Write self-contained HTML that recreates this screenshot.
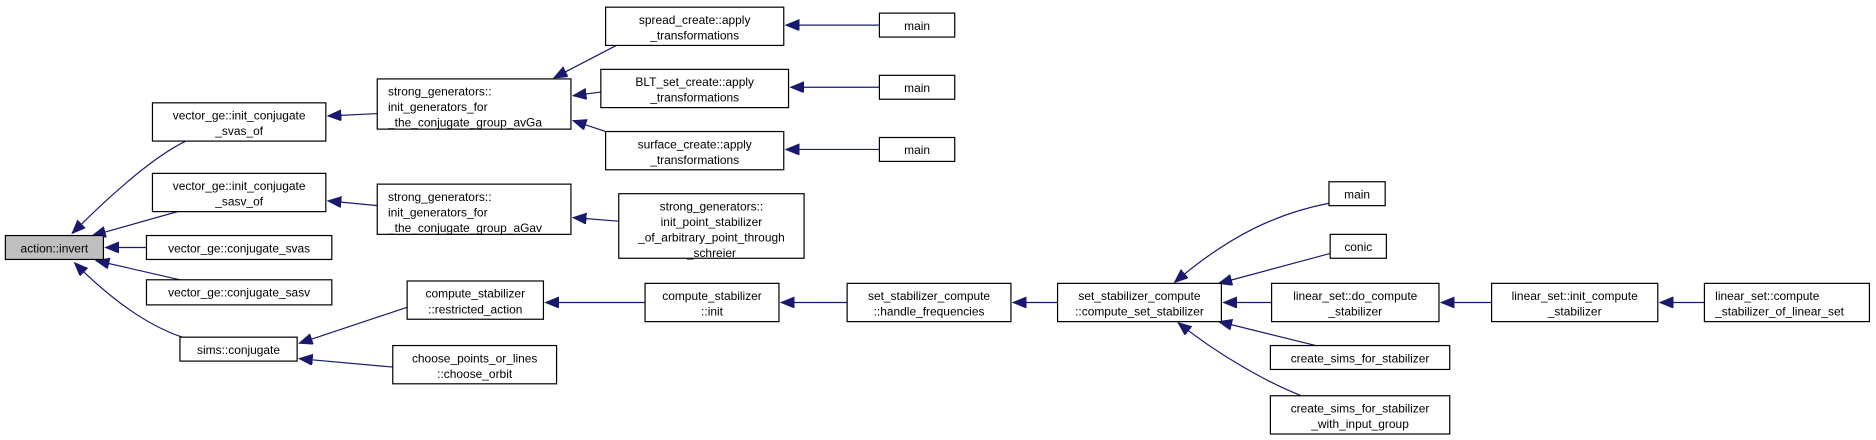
<!DOCTYPE html>
<html><head><meta charset="utf-8"><style>html,body{margin:0;padding:0;background:#fff;}svg{display:block}</style></head>
<body>
<svg width="1876" height="440" viewBox="0 0 1568 368" xmlns="http://www.w3.org/2000/svg" font-family="Liberation Sans, sans-serif" font-size="10">
<defs>
<marker id="a" markerUnits="userSpaceOnUse" markerWidth="13" markerHeight="10" refX="11" refY="4.5" orient="auto">
<path d="M0,0 L11,4.5 L0,9 Z" fill="#191970" stroke="#191970"/>
</marker>
</defs>
<g fill="none" stroke="#191970" stroke-width="1" marker-end="url(#a)">
<path d="M155,118 C130,130 95,160 60,195"/>
<path d="M148,177 L77,197"/>
<path d="M122,207 L88,207"/>
<path d="M150,234 L80,218"/>
<path d="M152,282 C125,273 95,253 62,220"/>
<path d="M315,95 L274,97"/>
<path d="M315,172 L274,168"/>
<path d="M340,257 L250,287"/>
<path d="M328,307 L250,300"/>
<path d="M515,38 L463,65"/>
<path d="M502,77 L479,80"/>
<path d="M515,113 L479,101"/>
<path d="M517,185 L479,182"/>
<path d="M735,21 L657,21"/>
<path d="M735,73 L661,73"/>
<path d="M735,125 L657,125"/>
<path d="M539,253 L456,253"/>
<path d="M708,253 L653,253"/>
<path d="M884,253 L847,253"/>
<path d="M1111,170 C1070,178 1030,195 982,236"/>
<path d="M1112,212 L1019,237"/>
<path d="M1063,253 L1023,253"/>
<path d="M1100,289 L1019,269"/>
<path d="M1088,331 C1060,320 1020,298 985,270"/>
<path d="M1247,253 L1205,253"/>
<path d="M1425,253 L1388,253"/>
</g>
<g stroke="#000" stroke-width="1" fill="#fff">
<rect x="4" y="197" width="82" height="20" fill="#bfbfbf"/>
<rect x="127" y="86" width="145" height="32"/>
<rect x="127" y="145" width="145" height="32"/>
<rect x="122" y="197" width="155" height="20"/>
<rect x="122" y="234" width="155" height="21"/>
<rect x="150" y="282" width="98" height="20"/>
<rect x="315" y="66" width="162" height="42"/>
<rect x="315" y="154" width="162" height="42"/>
<rect x="340" y="235" width="114" height="32"/>
<rect x="328" y="289" width="137" height="32"/>
<rect x="506" y="6" width="149" height="32"/>
<rect x="502" y="58" width="157" height="32"/>
<rect x="506" y="110" width="149" height="32"/>
<rect x="517" y="162" width="155" height="54"/>
<rect x="735" y="11" width="63" height="20"/>
<rect x="735" y="63" width="63" height="20"/>
<rect x="735" y="115" width="63" height="20"/>
<rect x="539" y="237" width="112" height="32"/>
<rect x="708" y="237" width="137" height="32"/>
<rect x="884" y="237" width="137" height="32"/>
<rect x="1111" y="152" width="47" height="20"/>
<rect x="1112" y="196" width="47" height="20"/>
<rect x="1063" y="237" width="140" height="32"/>
<rect x="1062" y="289" width="150" height="20"/>
<rect x="1062" y="331" width="150" height="32"/>
<rect x="1247" y="237" width="139" height="32"/>
<rect x="1425" y="237" width="138" height="32"/>
</g>
<g fill="#000" text-anchor="middle">
<text x="45" y="211">action::invert</text>
<text x="199.5" y="100">vector_ge::init_conjugate</text><text x="199.5" y="113">_svas_of</text>
<text x="199.5" y="159">vector_ge::init_conjugate</text><text x="199.5" y="172">_sasv_of</text>
<text x="199.5" y="211">vector_ge::conjugate_svas</text>
<text x="199.5" y="248">vector_ge::conjugate_sasv</text>
<text x="199" y="296">sims::conjugate</text>
<text x="397" y="249">compute_stabilizer</text><text x="397" y="262">::restricted_action</text>
<text x="396.5" y="303">choose_points_or_lines</text><text x="396.5" y="316">::choose_orbit</text>
<text x="580.5" y="20">spread_create::apply</text><text x="580.5" y="33">_transformations</text>
<text x="580.5" y="72">BLT_set_create::apply</text><text x="580.5" y="85">_transformations</text>
<text x="580.5" y="124">surface_create::apply</text><text x="580.5" y="137">_transformations</text>
<text x="594.5" y="176">strong_generators::</text><text x="594.5" y="189">init_point_stabilizer</text><text x="594.5" y="202">_of_arbitrary_point_through</text><text x="594.5" y="215">_schreier</text>
<text x="766.5" y="25">main</text><text x="766.5" y="77">main</text><text x="766.5" y="129">main</text>
<text x="595" y="251">compute_stabilizer</text><text x="595" y="264">::init</text>
<text x="776.5" y="251">set_stabilizer_compute</text><text x="776.5" y="264">::handle_frequencies</text>
<text x="952.5" y="251">set_stabilizer_compute</text><text x="952.5" y="264">::compute_set_stabilizer</text>
<text x="1134.5" y="166">main</text>
<text x="1135.5" y="210">conic</text>
<text x="1133" y="251">linear_set::do_compute</text><text x="1133" y="264">_stabilizer</text>
<text x="1137" y="303">create_sims_for_stabilizer</text>
<text x="1137" y="345">create_sims_for_stabilizer</text><text x="1137" y="358">_with_input_group</text>
<text x="1316.5" y="251">linear_set::init_compute</text><text x="1316.5" y="264">_stabilizer</text>
</g>
<g fill="#000">
<text x="324" y="80">strong_generators::</text><text x="324" y="93">init_generators_for</text><text x="324" y="106">_the_conjugate_group_avGa</text>
<text x="324" y="168">strong_generators::</text><text x="324" y="181">init_generators_for</text><text x="324" y="194">_the_conjugate_group_aGav</text>
<text x="1434" y="251">linear_set::compute</text><text x="1434" y="264">_stabilizer_of_linear_set</text>
</g>
</svg>
</body></html>
